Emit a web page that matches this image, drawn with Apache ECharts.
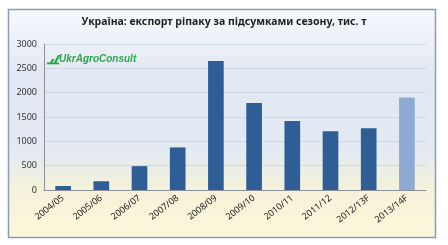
<!DOCTYPE html>
<html><head><meta charset="utf-8">
<script src="https://cdn.jsdelivr.net/npm/echarts@6/dist/echarts.min.js"></script>
<style>html,body{margin:0;padding:0;background:#fff}#c{width:448px;height:245px}</style>
</head><body><div id="c"></div>
<script>
var categories = ['2004/05','2005/06','2006/07','2007/08','2008/09','2009/10','2010/11','2011/12','2012/13F','2013/14F'];
var exportValues = [82, 180, 490, 875, 2650, 1790, 1420, 1205, 1270, 1900];
var forecastFlags = [false,false,false,false,false,false,false,false,false,true];
var yTicks = [0, 500, 1000, 1500, 2000, 2500, 3000];
var titleText = 'Україна: експорт ріпаку за підсумками сезону, тис. т';
var logoText = 'UkrAgroConsult';

var chart = echarts.init(document.getElementById('c'), null, {renderer:'canvas'});
var data = exportValues.map(function(v,i){
  return {value:v, itemStyle:{color: forecastFlags[i] ? '#8eaad3' : '#2f5e96'}};
});
chart.setOption({
  animation:false,
  backgroundColor:'#ffffff',
  graphic:[
    {type:'rect', z:-10, shape:{x:8.5,y:9.5,width:427,height:228},
     style:{fill:{type:'linear',x:0,y:0,x2:0,y2:1,colorStops:[
       {offset:0,color:'#f6f8fc'},{offset:0.3,color:'#e1e8f3'},{offset:0.62,color:'#e3eaf2'},
       {offset:0.78,color:'#f4f2da'},{offset:1,color:'#fcf7d9'}]},
       stroke:'#8c9db5', lineWidth:1.5}},
    {type:'text', left:'center', top:17, style:{text:titleText, font:'bold 10.5px "Noto Sans", sans-serif', fill:'#1f1f1f'}},
    {type:'polygon', shape:{points:[[53,64],[58,55],[60.5,55],[55.5,64]]}, style:{fill:'#2aa84a'}},
    {type:'polygon', shape:{points:[[49,64],[52,59],[54.5,59],[51.5,64]]}, style:{fill:'#2aa84a'}},
    {type:'rect', shape:{x:47,y:62.5,width:12,height:1.8}, style:{fill:'#2aa84a'}},
    {type:'text', left:59, top:54, style:{text:logoText, font:'italic bold 10px "Liberation Sans", sans-serif', fill:'#2aa84a'}}
  ],
  grid:{left:44, right:22, top:44, bottom:55, containLabel:false},
  xAxis:{type:'category', data:categories,
    axisLine:{lineStyle:{color:'#8a8f99', width:1}},
    axisTick:{show:false},
    axisLabel:{rotate:38, fontSize:9, color:'#1a1a1a', fontFamily:'"Noto Sans", sans-serif', margin:7, interval:0}
  },
  yAxis:{type:'value', min:yTicks[0], max:yTicks[yTicks.length-1], interval:500,
    axisLine:{show:true, lineStyle:{color:'#8a8f99'}},
    axisTick:{show:false},
    axisLabel:{fontSize:9, color:'#333', fontFamily:'"Noto Sans", sans-serif', margin:7, formatter:function(v){return String(v);}},
    splitLine:{lineStyle:{color:'#cfd7e3', width:1}}
  },
  series:[{type:'bar', data:data, barWidth:'41%'}]
});
</script></body></html>
